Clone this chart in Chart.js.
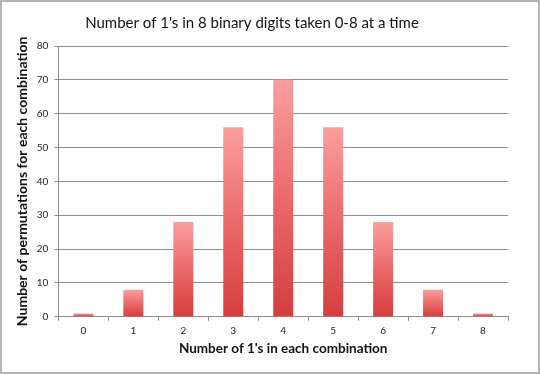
<!DOCTYPE html>
<html>
<head>
<meta charset="utf-8">
<script src="https://cdn.jsdelivr.net/npm/chart.js@4"></script>
<style>
  html, body { margin: 0; padding: 0; background: #fff; }
  canvas { display: block; }
</style>
</head>
<body>
<canvas id="myChart" width="540" height="374"></canvas>
<script>
// categories and values
let categories = ["0", "1", "2", "3", "4", "5", "6", "7", "8"];
let permutations = [1, 8, 28, 56, 70, 56, 28, 8, 1];
let yTicks = [0, 10, 20, 30, 40, 50, 60, 70, 80];

const FONT = "Lato, 'Open Sans', sans-serif";

// each bar gets its own light-to-dark gradient
function barGradient(context) {
    let chart = context.chart;
    if (!chart.chartArea || context.type !== 'data') return '#e25a5a';
    let y = chart.scales.y;
    let top = y.getPixelForValue(context.parsed.y);
    let bottom = y.getPixelForValue(0);
    if (!isFinite(top) || !isFinite(bottom) || top === bottom) return '#e25a5a';
    let g = chart.ctx.createLinearGradient(0, top, 0, bottom);
    g.addColorStop(0, '#fb9e9e');
    g.addColorStop(0.5, '#ea6a6a');
    g.addColorStop(1, '#d63d3d');
    return g;
}

// white page with thin grey frame, title nudged a bit to the left
const frame = {
    id: 'frame',
    afterLayout(chart) {
        if (chart.titleBlock) chart.titleBlock.left -= 18;
    },
    beforeDraw(chart) {
        let c = chart.ctx;
        c.save();
        c.fillStyle = '#fff';
        c.fillRect(0, 0, chart.width, chart.height);
        c.strokeStyle = '#b4b4b4';
        c.lineWidth = 2;
        c.strokeRect(1, 1, chart.width - 2, chart.height - 2);
        c.restore();
    }
};

let data = {
    labels: categories,
    datasets: [{
        data: permutations,
        backgroundColor: barGradient,
        borderWidth: 0,
        barPercentage: 0.4,
        categoryPercentage: 1.0
    }]
};

let options = {
    responsive: false,
    animation: false,
    layout: { padding: { left: 14, right: 32, top: 5, bottom: 17 } },
    plugins: {
        legend: { display: false },
        tooltip: { enabled: false },
        title: {
            display: true,
            text: "Number of 1's in 8 binary digits taken 0-8 at a time",
            color: '#111',
            font: { family: FONT, size: 15, weight: 'normal' },
            padding: { top: 9, bottom: 14 }
        }
    },
    scales: {
        x: {
            grid: { display: true, drawOnChartArea: false, drawTicks: true, tickLength: 4, color: '#8c8c8c', offset: true },
            border: { display: true, color: '#8c8c8c', width: 1 },
            ticks: { color: '#222', font: { family: FONT, size: 10 }, padding: 4 },
            title: {
                display: true,
                text: "Number of 1's in each combination",
                color: '#111',
                font: { family: FONT, size: 13.5, weight: 'bold' },
                padding: { top: 0, bottom: 0 }
            }
        },
        y: {
            min: 0,
            max: 80,
            afterBuildTicks(axis) { axis.ticks = yTicks.map(v => ({ value: v })); },
            grid: { color: '#8c8c8c', drawTicks: true, tickLength: 4 },
            border: { display: true, color: '#8c8c8c', width: 1 },
            ticks: { color: '#222', font: { family: FONT, size: 10 }, padding: 6 },
            title: {
                display: true,
                text: "Number of permutations for each combination",
                color: '#111',
                font: { family: FONT, size: 14, weight: 'bold' },
                padding: { top: 0, bottom: 0 }
            }
        }
    }
};

let ctx = document.getElementById("myChart").getContext("2d");
let myBarChart = new Chart(ctx, {
    type: 'bar',
    data: data,
    options: options,
    plugins: [frame]
});
</script>
</body>
</html>
